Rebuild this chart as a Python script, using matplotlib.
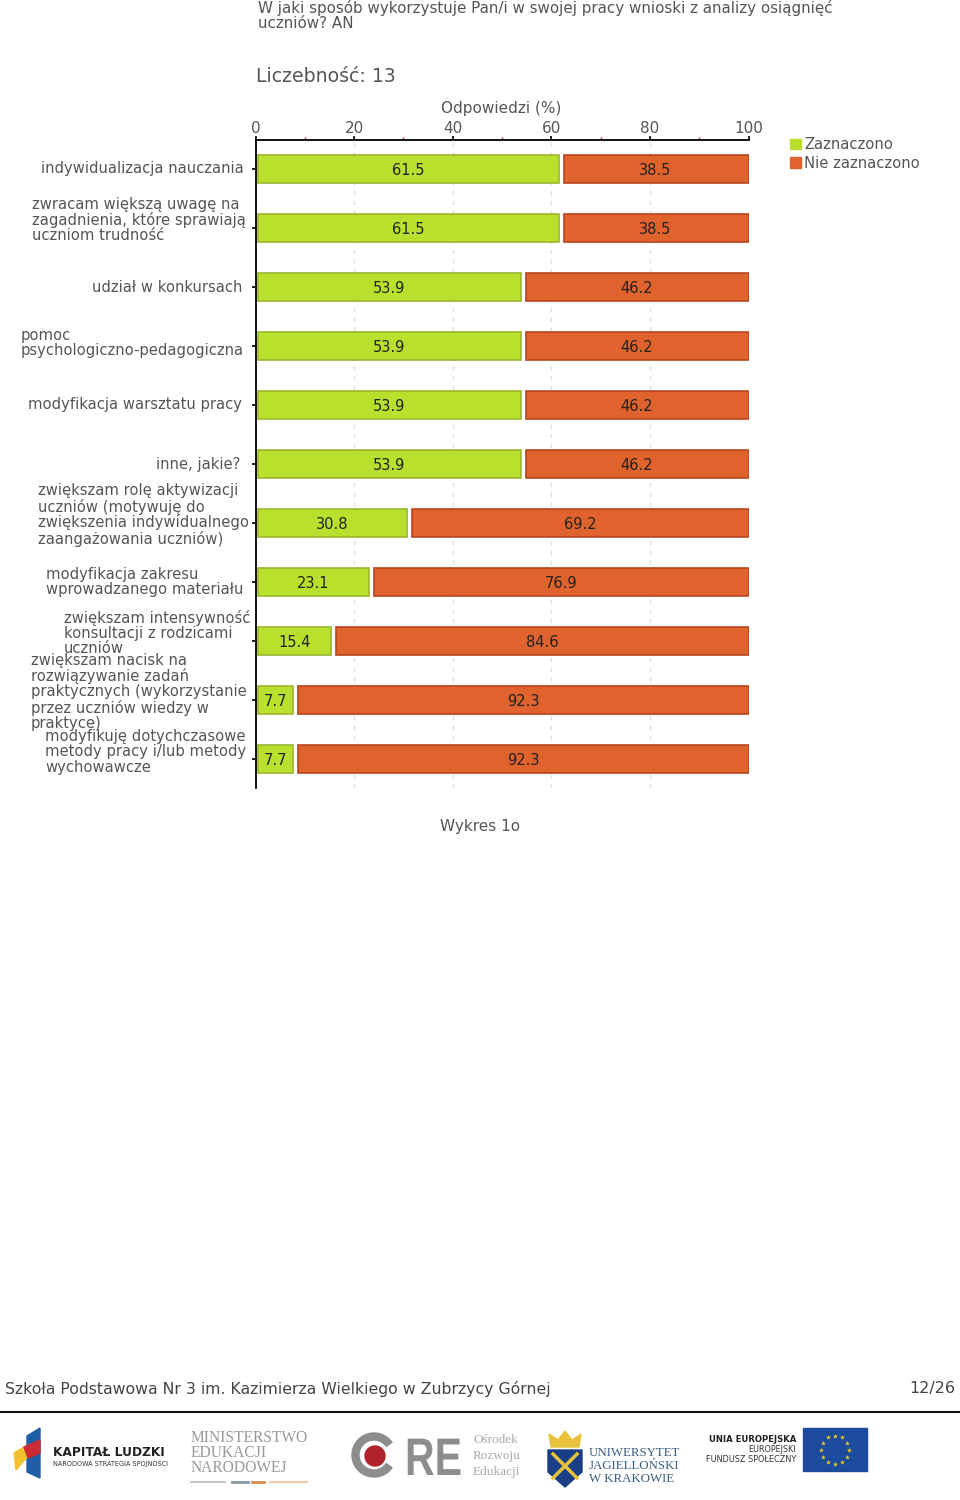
import numpy as np
import matplotlib
matplotlib.use('Agg')
import matplotlib.pyplot as plt
from matplotlib.patches import Circle, PathPatch, Polygon, Rectangle, Wedge
from matplotlib.textpath import TextPath
from matplotlib.font_manager import FontProperties
from matplotlib.transforms import Affine2D, blended_transform_factory

plt.rcParams['font.family'] = ['DejaVu Sans']

kategorie = [
    'indywidualizacja nauczania',
    'zwracam większą uwagę na\nzagadnienia, które sprawiają\nuczniom trudność',
    'udział w konkursach',
    'pomoc\npsychologiczno-pedagogiczna',
    'modyfikacja warsztatu pracy',
    'inne, jakie?',
    'zwiększam rolę aktywizacji\nuczniów (motywuję do\nzwiększenia indywidualnego\nzaangażowania uczniów)',
    'modyfikacja zakresu\nwprowadzanego materiału',
    'zwiększam intensywność\nkonsultacji z rodzicami\nuczniów',
    'zwiększam nacisk na\nrozwiązywanie zadań\npraktycznych (wykorzystanie\nprzez uczniów wiedzy w\npraktyce)',
    'modyfikuję dotychczasowe\nmetody pracy i/lub metody\nwychowawcze',
]
zaznaczono = [61.5, 61.5, 53.9, 53.9, 53.9, 53.9, 30.8, 23.1, 15.4, 7.7, 7.7]
nie_zaznaczono = [38.5, 38.5, 46.2, 46.2, 46.2, 46.2, 69.2, 76.9, 84.6, 92.3, 92.3]
ticks_major = [0, 20, 40, 60, 80, 100]
ticks_minor = [10, 30, 50, 70, 90]

# lewa krawedz i przesuniecie pionowe etykiet (px)
etykiety_x = [41, 32, 92, 21, 28, 156, 38, 46, 64, 31, 45]
etykiety_dy = [1, 8, 0, 3, 0, 0, 8, 0, 8, 8, 7]

ZIELONY = '#b9e02d'
POMARANCZ = '#e0622c'
SZARY = '#555555'

W, H = 960, 1500
fig = plt.figure(figsize=(9.6, 15), dpi=100, facecolor='white')


def box(x0, y0, x1, y1):
    return [x0 / W, 1 - y1 / H, (x1 - x0) / W, (y1 - y0) / H]


ax = fig.add_axes(box(255.5, 139.5, 748.5, 788.5))
ax.set_xlim(0, 100)
ax.set_ylim(len(kategorie) - 0.5, -0.5)
y = np.arange(len(kategorie))

# przerwa miedzy slupkami jak w oryginale
ax.barh(y, np.array(zaznaczono) - 0.5, left=0.5, height=0.46, color=ZIELONY, edgecolor='#9db52f', linewidth=1.2, zorder=3)
ax.barh(y, np.array(nie_zaznaczono) - 1, left=np.array(zaznaczono) + 1, height=0.46, color=POMARANCZ, edgecolor='#b8451f', linewidth=1.2, zorder=3)

for i, (a, b) in enumerate(zip(zaznaczono, nie_zaznaczono)):
    ax.text(a / 2 + 0.15, i + 0.02, str(a), ha='center', va='center', fontsize=10.5, color='#222222', zorder=4)
    ax.text(a + 0.9 + (b - 1) / 2, i + 0.02, str(b), ha='center', va='center', fontsize=10.5, color='#222222', zorder=4)

for s in ['right', 'bottom']:
    ax.spines[s].set_visible(False)
for s in ['left', 'top']:
    ax.spines[s].set_linewidth(1.3)
ax.xaxis.tick_top()
ax.xaxis.set_label_position('top')
ax.set_xticks(ticks_major)
ax.set_xticks(ticks_minor, minor=True)
ax.tick_params(axis='x', which='major', length=3, width=1.2, pad=-0.3, labelsize=11, labelcolor=SZARY)
ax.tick_params(axis='x', which='minor', length=2.5, width=1, color='#b03030')
ax.set_xlabel('Odpowiedzi (%)', fontsize=11, color=SZARY, labelpad=5.4, x=0.499)
ax.set_yticks(y)
ax.set_yticklabels([])
ax.tick_params(axis='y', length=3, width=1.2)
ax.grid(axis='x', which='major', color='#dddddd', linestyle=(0, (3, 4)), linewidth=1, zorder=0)
ax.set_axisbelow(True)

# etykiety kategorii
tr = blended_transform_factory(fig.transFigure, ax.transData)
for i, lab in enumerate(kategorie):
    ax.annotate(lab, xy=(etykiety_x[i] / W, i), xycoords=tr, xytext=(0, etykiety_dy[i]),
                textcoords='offset pixels', ha='left', va='center', fontsize=10.6, color=SZARY,
                linespacing=1.03, annotation_clip=False)

h = [Rectangle((0, 0), 1, 1, color=ZIELONY), Rectangle((0, 0), 1, 1, color=POMARANCZ)]
fig.legend(h, ['Zaznaczono', 'Nie zaznaczono'], loc='upper left', bbox_to_anchor=(786 / W, 1 - 133 / H),
           frameon=False, fontsize=10.6, labelcolor=SZARY, handlelength=0.7, handleheight=0.7,
           handletextpad=0.25, labelspacing=0.22, borderpad=0, borderaxespad=0.3)

# warstwa strony w pikselach
pg = fig.add_axes([0, 0, 1, 1], zorder=-1)
pg.set_xlim(0, W)
pg.set_ylim(H, 0)
pg.axis('off')

pg.text(258, 15, 'W jaki sposób wykorzystuje Pan/i w swojej pracy wnioski z analizy osiągnięć\nuczniów? AN',
        fontsize=10.9, color=SZARY, va='center', ha='left', linespacing=1.0)
pg.text(256, 77, 'Liczebność: 13', fontsize=13.6, color=SZARY, va='center', ha='left')
pg.text(480, 826, 'Wykres 1o', fontsize=11, color=SZARY, va='center', ha='center')
pg.text(5, 1389, 'Szkoła Podstawowa Nr 3 im. Kazimierza Wielkiego w Zubrzycy Górnej', fontsize=11.35,
        color='#444444', va='center', ha='left')
pg.text(955, 1389, '12/26', fontsize=11.5, color='#444444', va='center', ha='right')
pg.plot([0, 960], [1412, 1412], color='#111111', lw=1.5)

# logo Kapital Ludzki
pg.add_patch(Polygon([[27, 1436], [40, 1428], [40, 1478], [27, 1472]], color='#1f5fa8'))
pg.add_patch(Polygon([[14, 1453], [24, 1447], [28, 1456], [16, 1470]], color='#f2c230'))
pg.add_patch(Polygon([[24, 1447], [40, 1440], [40, 1453], [28, 1458]], color='#cc2b33'))
pg.text(53, 1452, 'KAPITAŁ LUDZKI', fontsize=8.8, fontweight='bold', color='#222222', va='center')
pg.text(53, 1463, 'NARODOWA STRATEGIA SPÓJNOŚCI', fontsize=4.7, color='#333333', va='center')

# logo MEN
for yy, t in zip([1438, 1453, 1468], ['MINISTERSTWO', 'EDUKACJI', 'NARODOWEJ']):
    pg.text(191, yy, t, fontsize=11.2, family='Liberation Serif', color='#999999', va='center')
pg.plot([191, 225], [1482, 1482], color='#c8c8c8', lw=1.5)
pg.plot([270, 307], [1482, 1482], color='#eccbb0', lw=1.5)
pg.plot([232, 248], [1482, 1482], color='#8899aa', lw=2)
pg.plot([252, 264], [1482, 1482], color='#d98a50', lw=2)

# logo ORE
pg.add_patch(Wedge((374, 1455), 22, 35, 325, width=7, color='#8d8d8d'))
pg.add_patch(Circle((375, 1456), 10, color='#b3232b'))
sciezka = TextPath((0, 0), 'RE', size=54, prop=FontProperties(family='Liberation Sans', weight='bold'))
pg.add_patch(PathPatch(sciezka, color='#8d8d8d', lw=0,
                       transform=Affine2D().scale(0.76, -0.98) + Affine2D().translate(405, 1475) + pg.transData))
for yy, t in zip([1440, 1456, 1472], ['Ośrodek', 'Rozwoju', 'Edukacji']):
    pg.text(473, yy, t, fontsize=9.5, family='Liberation Serif', color='#aaaaaa', va='center')

# logo UJ
pg.add_patch(Polygon([[551, 1447], [549, 1434], [558, 1440], [565, 1431], [572, 1440], [581, 1434], [579, 1447]], color='#e8c23a'))
pg.add_patch(Polygon([[548, 1450], [582, 1450], [582, 1472], [565, 1487], [548, 1472]], color='#1b3f86'))
pg.plot([553, 577], [1454, 1478], color='#e8c23a', lw=2.5)
pg.plot([577, 553], [1454, 1478], color='#e8c23a', lw=2.5)
for yy, t in zip([1453, 1466, 1479], ['UNIWERSYTET', 'JAGIELLOŃSKI', 'W KRAKOWIE']):
    pg.text(589, yy, t, fontsize=9.3, family='Liberation Serif', color='#3d5f80', va='center')

# logo UE
pg.text(796, 1440, 'UNIA EUROPEJSKA', fontsize=6.1, fontweight='bold', color='#222222', va='center', ha='right')
pg.text(796, 1450, 'EUROPEJSKI', fontsize=5.9, color='#333333', va='center', ha='right')
pg.text(796, 1460, 'FUNDUSZ SPOŁECZNY', fontsize=5.9, color='#333333', va='center', ha='right')
pg.add_patch(Rectangle((803, 1428), 64, 43, color='#1c4a9c'))
kat = np.arange(12) * np.pi / 6
pg.scatter(835 + 14 * np.cos(kat), 1449.5 + 14 * np.sin(kat), marker='*', s=14, color='#f4d020', linewidths=0)

fig.savefig('out.png', dpi=100)
